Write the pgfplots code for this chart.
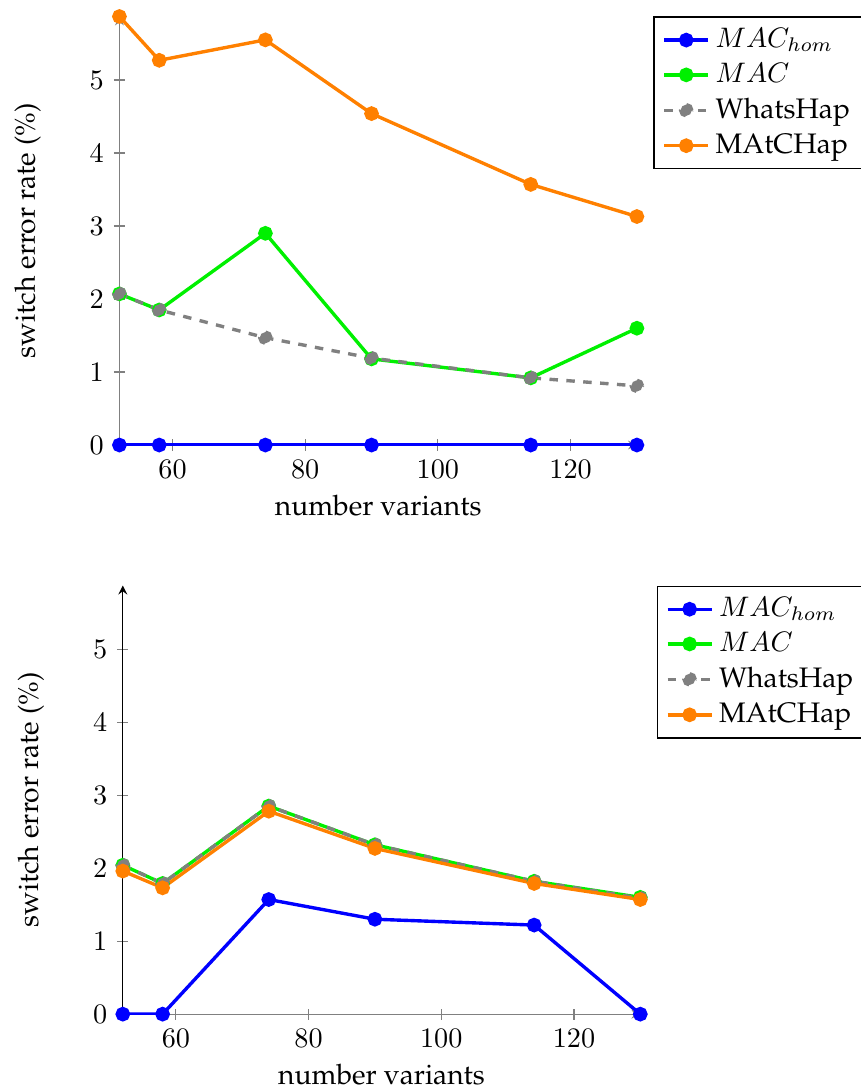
\documentclass[border=0pt]{standalone}
\usepackage[T1]{fontenc}
\renewcommand{\rmdefault}{ppl}
\usepackage{pgfplots}
\pgfplotsset{compat=1.18}
\definecolor{cblue}{RGB}{0,0,255}
\definecolor{cgreen}{RGB}{0,240,0}
\definecolor{cgray}{RGB}{128,128,128}
\definecolor{corange}{RGB}{255,128,0}
\pgfplotsset{
  myaxis/.style={
    scale only axis,
    width=183.5pt, height=151.95pt,
    axis lines=left,
    xmin=52, xmax=130, ymin=0, ymax=5.87,
    xtick={60,80,100,120}, ytick={0,1,2,3,4,5},
    tick align=center,
    tick style={gray, thin},
    major tick length=4pt,
    xlabel={number variants},
    ylabel={switch error rate (\%)},
    xlabel style={at={(axis description cs:0.5,0)}, anchor=base, yshift=-25pt},
    ylabel style={at={(axis description cs:0,0.5)}, anchor=base, yshift=30pt},
    legend style={at={(1.032,1)}, anchor=north west, draw=black, fill=white, font=\normalsize},
    legend cell align=left,
    legend image code/.code={\draw[mark repeat=2,mark phase=2] plot coordinates {(0cm,0cm) (0.275cm,0cm) (0.55cm,0cm)};},
    every axis plot/.append style={very thick, mark=*, mark size=2pt},
  }
}
\begin{document}
\begin{tikzpicture}
\useasboundingbox (-42.35pt,157.8pt) rectangle (262.6pt,-228.7pt);
\begin{axis}[myaxis, y axis line style={cgray}, x axis line style={cgray}]
\addplot[cblue] coordinates {(52,0) (58,0) (74,0) (90,0) (114,0) (130,0)};
\addlegendentry{$MAC_{hom}$}
\addplot[cgreen] coordinates {(52,2.07) (58,1.85) (74,2.90) (90,1.18) (114,0.92) (130,1.60)};
\addlegendentry{$MAC$}
\addplot[cgray, dashed] coordinates {(52,2.07) (58,1.85) (74,1.47) (90,1.19) (114,0.92) (130,0.81)};
\addlegendentry{WhatsHap}
\addplot[corange] coordinates {(52,5.87) (58,5.27) (74,5.55) (90,4.54) (114,3.57) (130,3.13)};
\addlegendentry{MAtCHap}
\end{axis}
\begin{axis}[myaxis, xshift=1.2pt, yshift=-201.8pt, y axis line style={black}, x axis line style={cgray}]
\addplot[cblue] coordinates {(52,0) (58,0) (74,1.57) (90,1.30) (114,1.22) (130,0)};
\addlegendentry{$MAC_{hom}$}
\addplot[cgreen] coordinates {(52,2.04) (58,1.79) (74,2.85) (90,2.32) (114,1.82) (130,1.60)};
\addlegendentry{$MAC$}
\addplot[cgray, dashed] coordinates {(52,2.04) (58,1.79) (74,2.85) (90,2.32) (114,1.82) (130,1.59)};
\addlegendentry{WhatsHap}
\addplot[corange] coordinates {(52,1.96) (58,1.73) (74,2.78) (90,2.27) (114,1.79) (130,1.57)};
\addlegendentry{MAtCHap}
\end{axis}
\end{tikzpicture}
\end{document}
